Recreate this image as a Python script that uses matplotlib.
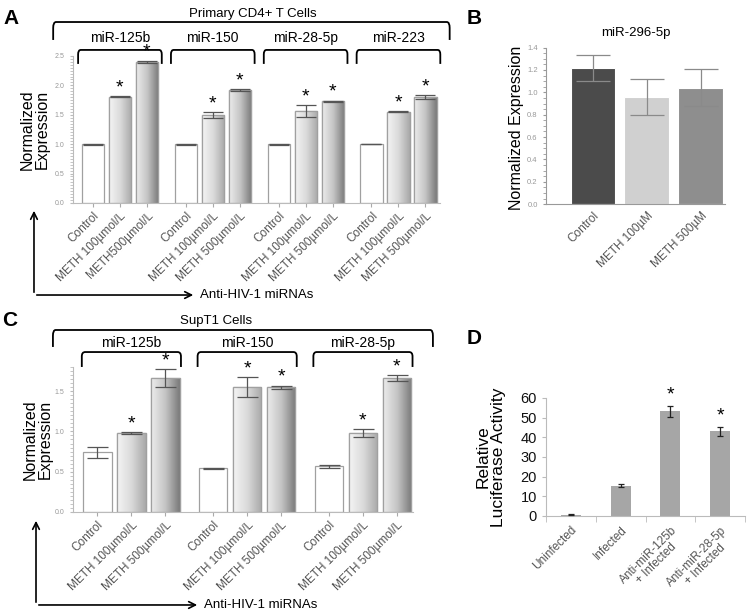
import numpy as np
import matplotlib
matplotlib.use("Agg")
import matplotlib.pyplot as plt
from matplotlib.path import Path
from matplotlib.patches import PathPatch, FancyArrowPatch
from matplotlib.colors import LinearSegmentedColormap
from matplotlib.transforms import blended_transform_factory
from matplotlib.ticker import MultipleLocator

plt.rcParams['font.family'] = ['Liberation Sans', 'DejaVu Sans']

# ---------------- data ----------------
# Panel A: primary CD4+ T cells
a_groups = ['miR-125b', 'miR-150', 'miR-28-5p', 'miR-223']
a_vals = [[1.00, 1.81, 2.40],
          [1.00, 1.50, 1.92],
          [1.00, 1.57, 1.73],
          [1.00, 1.55, 1.80]]
a_errs = [[0.01, 0.01, 0.02],
          [0.01, 0.05, 0.01],
          [0.01, 0.10, 0.01],
          [0.00, 0.01, 0.04]]
a_ticklabels = [['Control', 'METH 100µmol/L', 'METH500µmol/L'],
                ['Control', 'METH 100µmol/L', 'METH 500µmol/L'],
                ['Control', 'METH 100µmol/L', 'METH 500µmol/L'],
                ['Control', 'METH 100µmol/L', 'METH 500µmol/L']]

# Panel B: miR-296-5p
b_labels = ['Control', 'METH 100µM', 'METH 500µM']
b_vals = [1.22, 0.96, 1.04]
b_errs = [0.115, 0.16, 0.165]
b_colors = ['#4b4b4b', '#d0d0d0', '#8e8e8e']

# Panel C: SupT1 cells
c_groups = ['miR-125b', 'miR-150', 'miR-28-5p']
c_vals = [[0.74, 0.98, 1.66],
          [0.54, 1.55, 1.55],
          [0.565, 0.98, 1.66]]
c_errs = [[0.07, 0.01, 0.11],
          [0.005, 0.12, 0.02],
          [0.02, 0.05, 0.04]]
c_ticklabels = ['Control', 'METH 100µmol/L', 'METH 500µmol/L']

# Panel D: luciferase
d_labels = ['Uninfected', 'Infected', 'Anti-miR-125b\n+ Infected', 'Anti-miR-28-5p\n+ Infected']
d_vals = [0.6, 15.4, 53.2, 43.0]
d_errs = [0.2, 0.9, 2.7, 2.3]
d_stars = [False, False, True, True]

fig = plt.figure(figsize=(7.47, 6.15), dpi=100)

light_cmap = LinearSegmentedColormap.from_list('light', ['#f4f4f4', '#dadada', '#a9a9a9'])
dark_cmap = LinearSegmentedColormap.from_list('dark', ['#ececec', '#c4c4c4', '#7a7a7a'])
grad = np.linspace(0, 1, 64).reshape(1, -1)


def bracket(ax, x0, x1, ytop, ybot, transform, rx, ry):
    verts = [(x0, ybot), (x0, ytop - ry), (x0, ytop), (x0 + rx, ytop),
             (x1 - rx, ytop), (x1, ytop), (x1, ytop - ry), (x1, ybot)]
    codes = [Path.MOVETO, Path.LINETO, Path.CURVE3, Path.CURVE3,
             Path.LINETO, Path.CURVE3, Path.CURVE3, Path.LINETO]
    ax.add_patch(PathPatch(Path(verts, codes), fill=False, lw=1.3, color='black',
                           transform=transform, clip_on=False))


def grouped_panel(ax, groups, vals, errs, ticklabels, gap, width, ymax, star_off):
    xs, labels = [], []
    for gi, g in enumerate(groups):
        pos = gi * gap + np.arange(3)
        for k in range(3):
            bar = ax.bar(pos[k], vals[gi][k], width=width, color='white',
                         edgecolor='#a0a0a0', lw=0.9, zorder=2)[0]
            if k > 0:
                # shaded cylinder look for the METH bars
                cmap = light_cmap if k == 1 else dark_cmap
                im = ax.imshow(grad, cmap=cmap, aspect='auto', zorder=2.5,
                               extent=[bar.get_x(), bar.get_x() + bar.get_width(), 0, bar.get_height()])
                im.set_clip_path(bar)
                ax.bar(pos[k], vals[gi][k], width=width, fill=False,
                       edgecolor='#a0a0a0', lw=0.9, zorder=3)
            ax.errorbar(pos[k], vals[gi][k], yerr=errs[gi][k], fmt='none',
                        ecolor='#555555', elinewidth=0.9, capsize=width * 9, capthick=0.9, zorder=4)
            if k > 0:
                ax.text(pos[k], vals[gi][k] + errs[gi][k] + star_off, '*', ha='center',
                        va='center', fontsize=14, zorder=5)
        xs.extend(pos)
        labels.extend(ticklabels[gi] if isinstance(ticklabels[0], list) else ticklabels)
    ax.set_xticks(xs)
    ax.set_xticklabels(labels, rotation=45, ha='right', rotation_mode='anchor',
                       fontsize=8.5, color='#555555')
    ax.tick_params(axis='x', length=3, color='#aaaaaa', pad=2)
    ax.set_ylim(0, ymax)
    ax.yaxis.set_major_locator(MultipleLocator(0.5))
    ax.yaxis.set_minor_locator(MultipleLocator(0.05))
    ax.yaxis.set_major_formatter(plt.FuncFormatter(lambda v, p: f'{v:.1f}'))
    ax.tick_params(axis='y', which='both', labelsize=5, labelcolor='#999999',
                   color='#bbbbbb', length=2.5)
    for s in ['top', 'right']:
        ax.spines[s].set_visible(False)
    for s in ['left', 'bottom']:
        ax.spines[s].set_color('#bbbbbb')
    return xs


# ---------------- Panel A ----------------
axA = fig.add_axes([0.0977, 0.670, 0.491, 0.239])
grouped_panel(axA, a_groups, a_vals, a_errs, a_ticklabels, 3.44, 0.82, 2.5, 0.14)
axA.set_xlim(-0.74, 12.85)
trA = blended_transform_factory(axA.transData, axA.transAxes)
bracket(axA, -0.054, 1.027, 1.231, 1.109, axA.transAxes, 0.008, 0.04)
axA.text(0.49, 1.286, 'Primary CD4+ T Cells', transform=axA.transAxes, ha='center',
         va='center', fontsize=9.5)
for gi, g in enumerate(a_groups):
    s = gi * 3.44
    bracket(axA, s - 0.55, s + 2.55, 1.041, 0.946, trA, 0.1, 0.03)
    axA.text(s + 1, 1.122, g, transform=trA, ha='center', va='center', fontsize=10)

# ---------------- Panel B ----------------
axB = fig.add_axes([0.731, 0.668, 0.2396, 0.2546])
xb = np.arange(len(b_labels))
axB.bar(xb, b_vals, width=0.83, color=b_colors, edgecolor='white', lw=0.8, zorder=2)
axB.errorbar(xb, b_vals, yerr=b_errs, fmt='none', ecolor='#8a8a8a', elinewidth=0.9,
             capsize=12, capthick=0.9, zorder=3)
axB.set_xlim(-0.87, 2.45)
axB.set_ylim(0, 1.4)
axB.set_xticks(xb)
axB.set_xticklabels(b_labels, rotation=45, ha='right', rotation_mode='anchor',
                    fontsize=8.5, color='#555555')
axB.tick_params(axis='x', length=0, pad=4)
axB.yaxis.set_major_locator(MultipleLocator(0.2))
axB.yaxis.set_minor_locator(MultipleLocator(0.05))
axB.yaxis.set_major_formatter(plt.FuncFormatter(lambda v, p: f'{v:.1f}'))
axB.tick_params(axis='y', which='both', labelsize=5.5, labelcolor='#999999',
                color='#999999', length=2.5)
for s in ['top', 'right']:
    axB.spines[s].set_visible(False)
axB.spines['left'].set_color('#999999')
axB.spines['bottom'].set_color('#999999')
axB.set_title('miR-296-5p', fontsize=9.5, pad=8)
fig.text(0.691, 0.792, 'Normalized Expression', rotation=90, ha='center', va='center',
         fontsize=11.5)

# ---------------- Panel C ----------------
axC = fig.add_axes([0.0977, 0.1675, 0.455, 0.2358])
grouped_panel(axC, c_groups, c_vals, c_errs, c_ticklabels, 3.41, 0.84, 1.8, 0.1)
axC.set_xlim(-0.72, 9.29)
trC = blended_transform_factory(axC.transData, axC.transAxes)
bracket(axC, -0.059, 1.059, 1.255, 1.138, axC.transAxes, 0.008, 0.04)
axC.text(0.42, 1.317, 'SupT1 Cells', transform=axC.transAxes, ha='center',
         va='center', fontsize=9.5)
for gi, g in enumerate(c_groups):
    s = gi * 3.41
    bracket(axC, s - 0.46, s + 2.46, 1.103, 1.0, trC, 0.1, 0.03)
    axC.text(s + 1, 1.166, g, transform=trC, ha='center', va='center', fontsize=10)

# ---------------- Panel D ----------------
axD = fig.add_axes([0.731, 0.161, 0.2664, 0.1919])
xd = np.arange(len(d_labels))
axD.bar(xd, d_vals, width=0.4, color='#a6a6a6', zorder=2)
axD.errorbar(xd, d_vals, yerr=d_errs, fmt='none', ecolor='#222222', elinewidth=0.9,
             capsize=2.5, capthick=0.9, zorder=3)
for x, v, e, st in zip(xd, d_vals, d_errs, d_stars):
    if st:
        axD.text(x, v + e + 5.5, '*', ha='center', va='center', fontsize=14)
axD.set_xlim(-0.5, 3.5)
axD.set_ylim(0, 60)
axD.set_yticks(np.arange(0, 61, 10))
axD.set_xticks(xd)
axD.set_xticklabels(d_labels, rotation=45, ha='right', rotation_mode='anchor',
                    fontsize=8.5, color='#555555', multialignment='center', linespacing=1.0)
axD.set_xticks(np.arange(-0.5, 3.6, 1), minor=True)
axD.tick_params(axis='x', which='major', length=0, pad=6)
axD.tick_params(axis='x', which='minor', length=4, color='#bbbbbb')
axD.tick_params(axis='y', labelsize=10.5, labelcolor='#111111', color='#bbbbbb', length=3)
for s in ['top', 'right']:
    axD.spines[s].set_visible(False)
axD.spines['left'].set_color('#bbbbbb')
axD.spines['bottom'].set_color('#bbbbbb')
fig.text(0.657, 0.257, 'Relative\nLuciferase Activity', rotation=90, ha='center',
         va='center', fontsize=12.5, linespacing=1.05)

# ---------------- shared annotations ----------------
fig.text(0.046, 0.789, 'Normalized\nExpression', rotation=90, ha='center', va='center',
         fontsize=11.5, linespacing=1.0)
fig.text(0.050, 0.285, 'Normalized\nExpression', rotation=90, ha='center', va='center',
         fontsize=11.5, linespacing=1.0)

for (xv, yb, yt, xe) in [(0.0455, 0.5203, 0.6618, 0.2624),
                         (0.0482, 0.0163, 0.1577, 0.2677)]:
    fig.add_artist(FancyArrowPatch((xv, yb), (xv, yt), transform=fig.transFigure,
                                   arrowstyle='->', mutation_scale=12, lw=1.2, color='black'))
    fig.add_artist(FancyArrowPatch((xv, yb), (xe, yb), transform=fig.transFigure,
                                   arrowstyle='->', mutation_scale=12, lw=1.2, color='black'))
    fig.text(xe + 0.006, yb, 'Anti-HIV-1 miRNAs', ha='left', va='center', fontsize=9.5)

for lab, x, y in [('A', 0.005, 0.985), ('B', 0.625, 0.985), ('C', 0.003, 0.495), ('D', 0.625, 0.465)]:
    fig.text(x, y, lab, ha='left', va='top', fontsize=15, fontweight='bold')

fig.savefig('out.png', dpi=100)
